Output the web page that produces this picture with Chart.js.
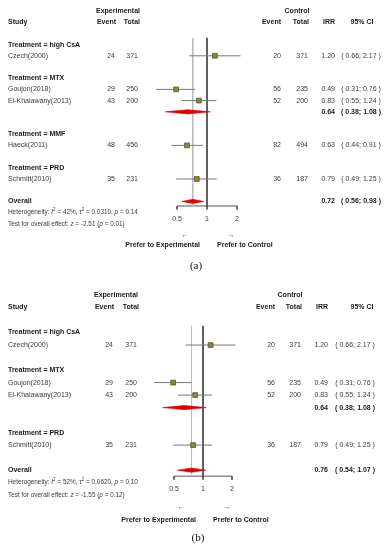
<!DOCTYPE html>
<html><head><meta charset="utf-8">
<script src="https://cdn.jsdelivr.net/npm/chart.js@4.4.0/dist/chart.umd.min.js"></script>
<style>
html,body{margin:0;padding:0;background:#fff;}
#wrap{position:relative;width:392px;height:550px;overflow:hidden;}
canvas{position:absolute;left:0;}
</style></head><body>
<div id="wrap">
  <canvas id="ca" width="392" height="275" style="top:0"></canvas>
  <canvas id="cb" width="392" height="275" style="top:275px"></canvas>
</div>
<script>
// ---- panel (a): all studies
const groupsA = ['high CsA', 'MTX', 'MMF', 'PRD'];
const studiesA = ['Czech(2000)', 'Goujon(2018)', 'El-Khalawany(2013)', 'Haeck(2011)', 'Schmitt(2010)'];
const groupOfA = [0, 1, 1, 2, 3];
const expEventA = [24, 29, 43, 48, 35];
const expTotalA = [371, 250, 200, 456, 231];
const ctlEventA = [20, 56, 52, 82, 36];
const ctlTotalA = [371, 235, 200, 494, 187];
const irrA = [1.20, 0.49, 0.83, 0.63, 0.79];
const loA = [0.66, 0.31, 0.55, 0.44, 0.49];
const hiA = [2.17, 0.76, 1.24, 0.91, 1.25];
const subIrrA = [null, 0.64, null, null];
const subLoA = [null, 0.38, null, null];
const subHiA = [null, 1.08, null, null];
const overallA = [0.72, 0.56, 0.93];
const hetA = ['42%', '0.0310', '0.14'];
const testA = ['-2.51', '0.01'];

// ---- panel (b): MMF study left out
const groupsB = ['high CsA', 'MTX', 'PRD'];
const studiesB = ['Czech(2000)', 'Goujon(2018)', 'El-Khalawany(2013)', 'Schmitt(2010)'];
const groupOfB = [0, 1, 1, 2];
const expEventB = [24, 29, 43, 35];
const expTotalB = [371, 250, 200, 231];
const ctlEventB = [20, 56, 52, 36];
const ctlTotalB = [371, 235, 200, 187];
const irrB = [1.20, 0.49, 0.83, 0.79];
const loB = [0.66, 0.31, 0.55, 0.49];
const hiB = [2.17, 0.76, 1.24, 1.25];
const subIrrB = [null, 0.64, null];
const subLoB = [null, 0.38, null];
const subHiB = [null, 1.08, null];
const overallB = [0.76, 0.54, 1.07];
const hetB = ['52%', '0.0620', '0.10'];
const testB = ['-1.55', '0.12'];

const tickVals = [0.5, 1, 2];
const tickLabels = ['0.5', '1', '2'];

const SANS = '"Liberation Sans", Arial, sans-serif';
const W = 392;

function buildRows(groups, groupOf, subIrr){
  let r = 3; const head = [], study = [], sub = [];
  groups.forEach((g, gi) => {
    head.push(r); r++;
    groupOf.forEach((gg, si) => { if (gg === gi) { study[si] = r; r++; } });
    sub.push(subIrr[gi] != null ? r++ : null);
    r++;
  });
  return {head, study, sub, overall: r};
}

const ci = (lo, hi) => `( ${lo.toFixed(2)}; ${hi.toFixed(2)} )`;

function txt(ctx, s, x, y, align, bold, size, color){
  ctx.font = `${bold ? 'bold ' : ''}${size || 7}px ${SANS}`;
  ctx.fillStyle = color || (bold ? '#1a1a1a' : '#3a3a3a');
  ctx.textAlign = align || 'left';
  ctx.textBaseline = 'middle';
  ctx.fillText(s, x, y);
}

function rich(ctx, parts, x, y, size){
  ctx.textAlign = 'left'; ctx.textBaseline = 'middle'; ctx.fillStyle = '#3a3a3a';
  parts.forEach(p => {
    const sz = p.sup ? size * 0.7 : size;
    ctx.font = `${p.it ? 'italic ' : ''}${sz}px ${SANS}`;
    ctx.fillText(p.t, x, p.sup ? y - size * 0.4 : y);
    x += ctx.measureText(p.t).width;
  });
}

function makeForest(id, D, G){
  const rows = buildRows(D.groups, D.groupOf, D.subIrr);
  const dh = 2.1 / G.rowH;
  const sets = [];
  // study squares (on top)
  sets.push({data: D.irr.map((v, i) => ({x: v, y: rows.study[i]})), showLine: false,
    pointStyle: 'rect', pointRadius: 3.4, pointBackgroundColor: '#8b853f',
    pointBorderColor: '#5b5622', pointBorderWidth: 0.8});
  // diamonds: subgroup + overall
  const dia = [];
  D.subIrr.forEach((v, gi) => { if (v != null) dia.push([v, D.subLo[gi], D.subHi[gi], rows.sub[gi]]); });
  dia.push([D.overall[0], D.overall[1], D.overall[2], rows.overall]);
  dia.forEach(([est, lo, hi, r]) => {
    sets.push({data: [{x: lo, y: r}, {x: est, y: r - dh}, {x: hi, y: r}],
      borderColor: '#e00000', borderWidth: 0.6, pointRadius: 0, fill: false});
    sets.push({data: [{x: lo, y: r}, {x: est, y: r + dh}, {x: hi, y: r}],
      borderColor: '#e00000', borderWidth: 0.6, pointRadius: 0, fill: '-1', backgroundColor: '#e00000'});
  });
  // CI whiskers
  D.irr.forEach((v, i) => {
    sets.push({data: [{x: D.lo[i], y: rows.study[i]}, {x: D.hi[i], y: rows.study[i]}],
      borderColor: '#777', borderWidth: 1, pointRadius: 0});
  });
  // reference line and pooled line
  sets.push({data: [{x: 1, y: G.vTop}, {x: 1, y: G.axisRow}], borderColor: '#4a4a4a', borderWidth: 1, pointRadius: 0});
  sets.push({data: [{x: D.overall[0], y: G.vTop}, {x: D.overall[0], y: G.axisRow}], borderColor: '#bdbdbd', borderWidth: 1, pointRadius: 0});
  // x axis with ticks
  sets.push({data: [{x: tickVals[0], y: G.axisRow}, {x: tickVals[tickVals.length - 1], y: G.axisRow}], borderColor: '#555', borderWidth: 1, pointRadius: 0});
  tickVals.forEach(t => sets.push({data: [{x: t, y: G.axisRow}, {x: t, y: G.axisRow + 3.5 / G.rowH}], borderColor: '#555', borderWidth: 1, pointRadius: 0}));

  const textPlugin = {
    id: 'forestText',
    afterDraw(chart){
      const ctx = chart.ctx, xs = chart.scales.x, ys = chart.scales.y;
      const py = r => ys.getPixelForValue(r);
      const c = G.cols;
      // headers
      txt(ctx, 'Experimental', c.expHead, py(0), 'center', true);
      txt(ctx, 'Control', c.ctlHead, py(0), 'center', true);
      txt(ctx, 'Study', c.study, py(1), 'left', true);
      txt(ctx, 'Event', c.expEv + 1, py(1), 'right', true);
      txt(ctx, 'Total', c.expTot + 2, py(1), 'right', true);
      txt(ctx, 'Event', c.ctlEv, py(1), 'right', true);
      txt(ctx, 'Total', c.ctlTot + 1, py(1), 'right', true);
      txt(ctx, 'IRR', c.irr, py(1), 'right', true);
      txt(ctx, '95% CI', c.ciHead, py(1), 'center', true);
      D.groups.forEach((g, gi) => {
        txt(ctx, 'Treatment = ' + g, c.study, py(rows.head[gi]), 'left', true);
        if (rows.sub[gi] != null) {
          txt(ctx, D.subIrr[gi].toFixed(2), c.irr, py(rows.sub[gi]), 'right', true);
          txt(ctx, ci(D.subLo[gi], D.subHi[gi]), c.ci, py(rows.sub[gi]), 'center', true);
        }
      });
      D.studies.forEach((s, i) => {
        const y = py(rows.study[i]);
        txt(ctx, s, c.study, y);
        txt(ctx, String(D.expEvent[i]), c.expEv, y, 'right');
        txt(ctx, String(D.expTotal[i]), c.expTot, y, 'right');
        txt(ctx, String(D.ctlEvent[i]), c.ctlEv, y, 'right');
        txt(ctx, String(D.ctlTotal[i]), c.ctlTot, y, 'right');
        txt(ctx, D.irr[i].toFixed(2), c.irr, y, 'right');
        txt(ctx, ci(D.lo[i], D.hi[i]), c.ci, y, 'center');
      });
      const yo = py(rows.overall);
      txt(ctx, 'Overall', c.study, yo, 'left', true);
      txt(ctx, D.overall[0].toFixed(2), c.irr, yo, 'right', true);
      txt(ctx, ci(D.overall[1], D.overall[2]), c.ci, yo, 'center', true);
      rich(ctx, [{t: 'Heterogeneity: '}, {t: 'I', it: true}, {t: '2', sup: true}, {t: ' = ' + D.het[0] + ', '},
        {t: 'τ'}, {t: '2', sup: true}, {t: ' = ' + D.het[1] + ', '}, {t: 'p', it: true}, {t: ' = ' + D.het[2]}],
        c.study, py(rows.overall + 1), 6.4);
      rich(ctx, [{t: 'Test for overall effect: '}, {t: 'z', it: true}, {t: ' = ' + D.test[0] + ' ('},
        {t: 'p', it: true}, {t: ' = ' + D.test[1] + ')'}], c.study, py(rows.overall + 2), 6.4);
      // axis labels
      const ay = py(G.axisRow);
      tickVals.forEach((t, i) => txt(ctx, tickLabels[i], xs.getPixelForValue(t), ay + 13, 'center', false, 7));
      const x1 = xs.getPixelForValue(1);
      txt(ctx, '←', x1 - 22, ay + G.arrowGap, 'center', false, 7);
      txt(ctx, '→', x1 + 24, ay + G.arrowGap, 'center', false, 7);
      txt(ctx, 'Prefer to Experimental', x1 - 7, ay + G.preferGap, 'right', true);
      txt(ctx, 'Prefer to Control', x1 + 10, ay + G.preferGap, 'left', true);
      ctx.font = `11px "Liberation Serif", "Times New Roman", serif`;
      ctx.fillStyle = '#111'; ctx.textAlign = 'center'; ctx.textBaseline = 'middle';
      ctx.fillText(G.label, G.labelX, G.labelY);
    }
  };

  new Chart(document.getElementById(id), {
    type: 'line',
    data: {datasets: sets},
    plugins: [textPlugin],
    options: {
      responsive: false, animation: false, devicePixelRatio: 1, events: [],
      layout: {padding: {left: G.x1 - 3 * G.k, right: W - (G.x1 + 3 * G.k), top: G.top,
        bottom: G.h - (G.top + G.maxRow * G.rowH)}},
      plugins: {legend: {display: false}, tooltip: {enabled: false}},
      elements: {line: {tension: 0}},
      scales: {
        x: {type: 'logarithmic', min: 0.125, max: 8, bounds: 'data', display: false},
        y: {type: 'linear', min: 0, max: G.maxRow, reverse: true, display: false}
      }
    }
  });
}

makeForest('ca', {
  groups: groupsA, studies: studiesA, groupOf: groupOfA, expEvent: expEventA, expTotal: expTotalA,
  ctlEvent: ctlEventA, ctlTotal: ctlTotalA, irr: irrA, lo: loA, hi: hiA,
  subIrr: subIrrA, subLo: subLoA, subHi: subHiA, overall: overallA, het: hetA, test: testA
}, {
  x1: 207, k: 30, top: 11, rowH: 11.2, maxRow: 20, h: 275, vTop: 2.4, axisRow: 17.41,
  arrowGap: 29, preferGap: 39, label: '(a)', labelX: 196, labelY: 266,
  cols: {study: 8, expHead: 118, expEv: 115, expTot: 138, ctlHead: 297, ctlEv: 281, ctlTot: 308, irr: 335, ci: 361, ciHead: 362}
});

makeForest('cb', {
  groups: groupsB, studies: studiesB, groupOf: groupOfB, expEvent: expEventB, expTotal: expTotalB,
  ctlEvent: ctlEventB, ctlTotal: ctlTotalB, irr: irrB, lo: loB, hi: hiB,
  subIrr: subIrrB, subLo: subLoB, subHi: subHiB, overall: overallB, het: hetB, test: testB
}, {
  x1: 203, k: 29, top: 20, rowH: 12.57, maxRow: 20, h: 275, vTop: 2.47, axisRow: 14.48,
  arrowGap: 31, preferGap: 44, label: '(b)', labelX: 198, labelY: 263,
  cols: {study: 8, expHead: 116, expEv: 113, expTot: 137, ctlHead: 290, ctlEv: 275, ctlTot: 301, irr: 328, ci: 355, ciHead: 362}
});
</script>
</body></html>
